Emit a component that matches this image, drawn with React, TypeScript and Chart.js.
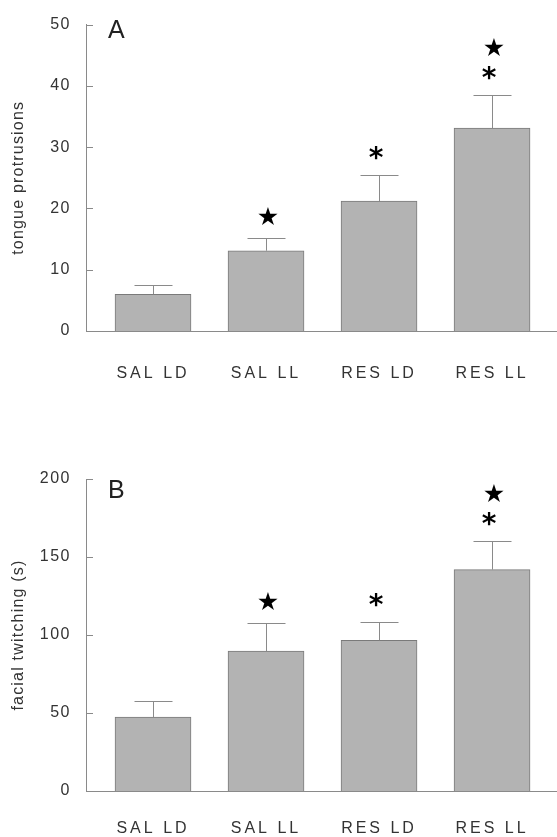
import React, { useEffect, useRef } from "react";
import { Chart, registerables } from "chart.js";

Chart.register(...registerables);

// ---------- data ----------
const categories = ["SAL LD", "SAL LL", "RES LD", "RES LL"];

const tongueValues = [6.0, 13.1, 21.2, 33.1];
const tongueErrors = [1.5, 2.1, 4.3, 5.4];
const tongueMarks = [[], ["★"], ["*"], ["*", "★"]];
const tongueMax = 50;
const tongueStep = 10;

const twitchValues = [47.4, 89.7, 96.6, 141.9];
const twitchErrors = [10.1, 18.3, 11.5, 18.4];
const twitchMarks = [[], ["★"], ["*"], ["*", "★"]];
const twitchMax = 200;
const twitchStep = 50;

// ---------- style ----------
const FONT = "'Liberation Sans', Arial, Helvetica, sans-serif";
const BAR_FILL = "#b3b3b3";
const BAR_EDGE = "#7a7a7a";
const AXIS = "#8a8a8a";
const TEXT = "#333333";

type PanelProps = {
  top: number;
  height: number;
  padTop: number;
  labelPad: number;
  values: number[];
  errors: number[];
  marks: string[][];
  yMax: number;
  step: number;
  yTitle: string;
  letter: string;
};

function withSpacing(chart: any, obj: any, method: string, spacing: string) {
  const key = "_sp_" + method;
  if (obj[key]) return;
  const orig = obj[method].bind(obj);
  obj[method] = (...args: any[]) => {
    const c: any = chart.ctx;
    const prev = c.letterSpacing;
    c.letterSpacing = spacing;
    orig(...args);
    c.letterSpacing = prev || "0px";
  };
  obj[key] = true;
}

function Panel(p: PanelProps) {
  const ref = useRef<HTMLCanvasElement | null>(null);
  useEffect(() => {
    if (!ref.current) return;
    const plotBottom = p.padTop + 312;
    const xH = p.height - plotBottom;

    const decor = {
      id: "decor",
      beforeDraw(chart: any) {
        withSpacing(chart, chart.scales.x, "drawLabels", "3px");
        withSpacing(chart, chart.scales.y, "drawLabels", "1.5px");
        withSpacing(chart, chart.scales.y, "drawTitle", "1.2px");
      },
      afterDatasetsDraw(chart: any) {
        const ctx = chart.ctx;
        const xs = chart.scales.x;
        const ys = chart.scales.y;
        ctx.save();
        // inward ticks
        ctx.strokeStyle = AXIS;
        ctx.lineWidth = 1;
        ys.ticks.forEach((t: any) => {
          const py = Math.round(ys.getPixelForValue(t.value)) + 0.5;
          ctx.beginPath();
          ctx.moveTo(chart.chartArea.left, py);
          ctx.lineTo(chart.chartArea.left + 7, py);
          ctx.stroke();
        });
        // error bars
        p.values.forEach((v, i) => {
          const cx = Math.round(xs.getPixelForValue(i)) + 0.5;
          const y0 = ys.getPixelForValue(v);
          const y1 = Math.round(ys.getPixelForValue(v + p.errors[i])) + 0.5;
          ctx.beginPath();
          ctx.moveTo(cx, y0);
          ctx.lineTo(cx, y1);
          ctx.moveTo(cx - 19, y1);
          ctx.lineTo(cx + 19, y1);
          ctx.stroke();
        });
        // significance marks
        ctx.fillStyle = "#000";
        ctx.textAlign = "center";
        ctx.textBaseline = "alphabetic";
        const offs = [22, 48];
        p.marks.forEach((list, i) => {
          list.forEach((m, j) => {
            const isStar = m === "★";
            ctx.font = isStar ? "25px 'DejaVu Sans'" : "bold 28px 'DejaVu Sans'";
            const mt = ctx.measureText(m);
            const cx = xs.getPixelForValue(i) + (isStar ? 2 : -3);
            const cy = ys.getPixelForValue(p.values[i] + p.errors[i]) - offs[j];
            const base = cy + (mt.actualBoundingBoxAscent - mt.actualBoundingBoxDescent) / 2;
            ctx.fillText(m, cx, base);
          });
        });
        // panel letter
        ctx.fillStyle = "#222";
        ctx.textAlign = "left";
        ctx.font = "25px " + FONT;
        ctx.fillText(p.letter, 108, p.padTop + 19);
        ctx.restore();
      },
    };

    const chart = new Chart(ref.current, {
      type: "bar",
      data: {
        datasets: [
          {
            data: p.values.map((v, i) => ({ x: i, y: v })),
            backgroundColor: BAR_FILL,
            borderColor: BAR_EDGE,
            borderWidth: 1,
            barThickness: 76,
          },
        ],
      },
      options: {
        responsive: false,
        animation: false,
        events: [],
        layout: { padding: { top: p.padTop, left: 0, right: 1, bottom: 0 } },
        plugins: { legend: { display: false }, tooltip: { enabled: false }, title: { display: false } },
        scales: {
          x: {
            type: "linear",
            offset: false,
            bounds: "data",
            min: -0.593,
            max: 3.566,
            grid: { display: false, drawTicks: false },
            border: { display: true, color: AXIS, width: 1 },
            afterBuildTicks: (s: any) => {
              s.ticks = categories.map((_, i) => ({ value: i }));
            },
            afterFit: (s: any) => {
              s.height = xH;
            },
            ticks: {
              autoSkip: false,
              maxRotation: 0,
              padding: p.labelPad,
              color: TEXT,
              font: { family: FONT, size: 16 },
              callback: (v: any) => categories[Math.round(Number(v))] ?? "",
            },
          },
          y: {
            min: 0,
            max: p.yMax,
            grid: { display: false, drawTicks: false },
            border: { display: true, color: AXIS, width: 1 },
            afterFit: (s: any) => {
              s.width = 86;
            },
            ticks: {
              stepSize: p.step,
              padding: 15,
              color: TEXT,
              font: { family: FONT, size: 16 },
            },
            title: {
              display: true,
              text: p.yTitle,
              color: TEXT,
              padding: { top: 9, bottom: 0 },
              font: { family: FONT, size: 16 },
            },
          },
        },
      },
      plugins: [decor],
    } as any);
    return () => chart.destroy();
  }, []);
  return (
    <canvas
      ref={ref}
      width={557}
      height={p.height}
      style={{ position: "absolute", left: 0, top: p.top, width: 557, height: p.height, display: "block" }}
    />
  );
}

export default function App() {
  return (
    <div style={{ position: "absolute", left: 0, top: 0, width: 557, height: 837, background: "#fff" }}>
      <Panel
        top={0}
        height={420}
        padTop={19}
        labelPad={33}
        values={tongueValues}
        errors={tongueErrors}
        marks={tongueMarks}
        yMax={tongueMax}
        step={tongueStep}
        yTitle="tongue protrusions"
        letter="A"
      />
      <Panel
        top={420}
        height={417}
        padTop={59}
        labelPad={28}
        values={twitchValues}
        errors={twitchErrors}
        marks={twitchMarks}
        yMax={twitchMax}
        step={twitchStep}
        yTitle="facial twitching (s)"
        letter="B"
      />
    </div>
  );
}
